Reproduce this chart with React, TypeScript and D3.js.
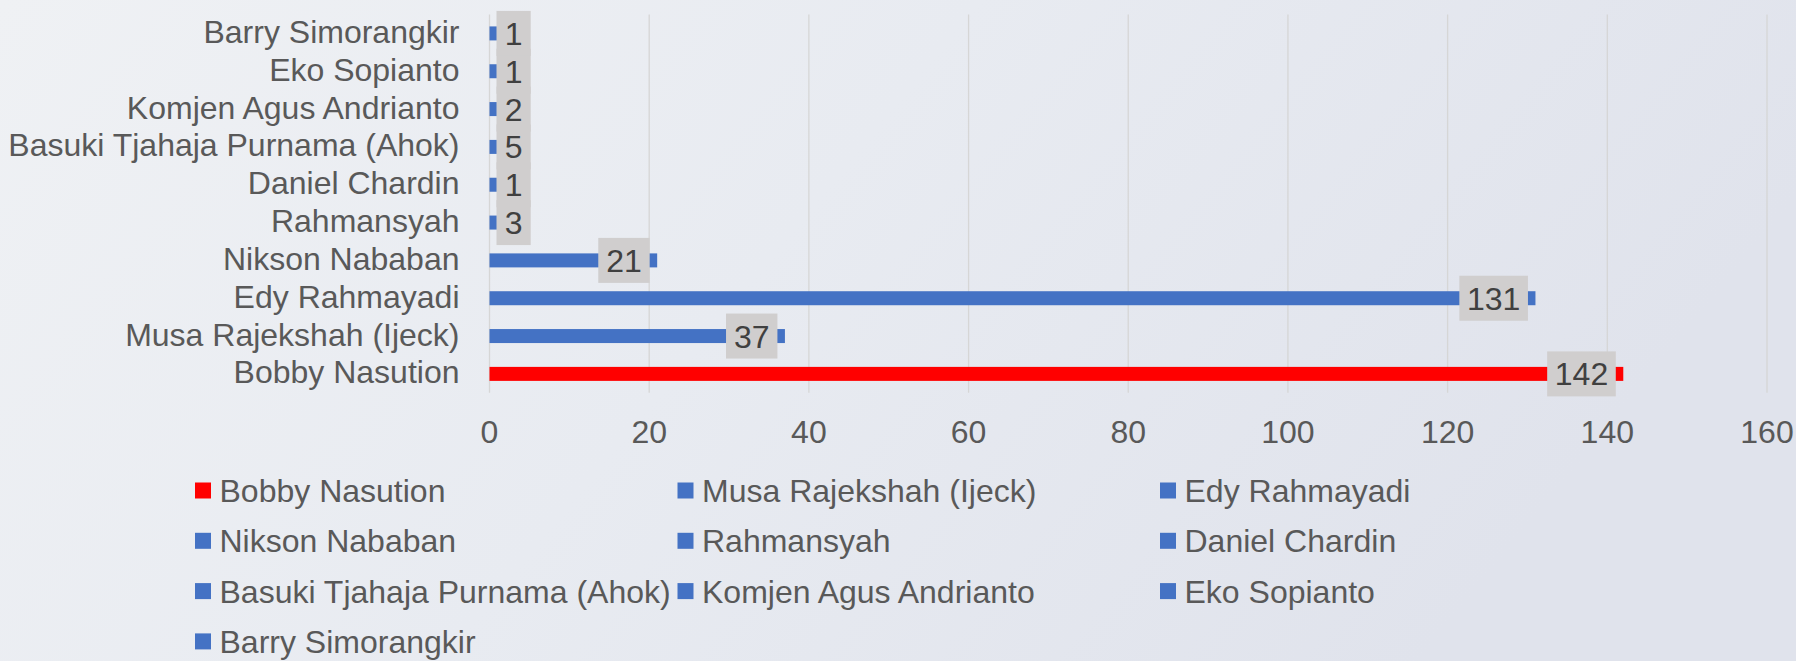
import React from "react";
import * as d3 from "d3";

// series order as in the legend (first series sits at the bottom of the chart)
const names = [
  "Bobby Nasution",
  "Musa Rajekshah (Ijeck)",
  "Edy Rahmayadi",
  "Nikson Nababan",
  "Rahmansyah",
  "Daniel Chardin",
  "Basuki Tjahaja Purnama (Ahok)",
  "Komjen Agus Andrianto",
  "Eko Sopianto",
  "Barry Simorangkir",
];
const values = [142, 37, 131, 21, 3, 1, 5, 2, 1, 1];
const colors = ["#FF0000", "#4472C4", "#4472C4", "#4472C4", "#4472C4", "#4472C4", "#4472C4", "#4472C4", "#4472C4", "#4472C4"];
const ticks = [0, 20, 40, 60, 80, 100, 120, 140, 160];

const width = 1796;
const height = 661;
const font = "'Liberation Sans', Arial, sans-serif";
const fs = 32;

const x = d3.scaleLinear().domain([0, 160]).range([489.5, 1767]);
// top of the chart is the last series
const y = d3
  .scaleBand()
  .domain([...names].reverse())
  .range([14.5, 392.8]);

const barH = 14;
const boxH = 45;
const digitW = 17.2;
const padX = 8.5;

const legendCols = [195, 677.5, 1160];
const legendRow0 = 502;
const legendStep = 50.3;

const App = () => {
  return (
    <svg
      width={width}
      height={height}
      style={{ position: "absolute", left: 0, top: 0, display: "block" }}
      fontFamily={font}
    >
      <defs>
        <linearGradient id="bg" x1="0" y1="0" x2="1" y2="0.3">
          <stop offset="0" stopColor="#eff1f4" />
          <stop offset="0.5" stopColor="#e8ebf1" />
          <stop offset="1" stopColor="#e0e3ec" />
        </linearGradient>
      </defs>
      <rect width={width} height={height} fill="url(#bg)" />

      {/* gridlines */}
      {ticks.map((t) => (
        <line
          key={t}
          x1={x(t)}
          x2={x(t)}
          y1={y.range()[0]}
          y2={y.range()[1]}
          stroke="#d6d6d6"
          strokeWidth={1.3}
        />
      ))}
      {ticks.map((t) => (
        <text key={t} x={x(t)} y={442.5} textAnchor="middle" fontSize={fs} fill="#595959">
          {t}
        </text>
      ))}

      {/* category labels */}
      {names.map((n) => (
        <text
          key={n}
          x={459.5}
          y={(y(n) as number) + y.bandwidth() / 2 + 9.5}
          textAnchor="end"
          fontSize={fs}
          fill="#595959"
        >
          {n}
        </text>
      ))}

      {/* bars */}
      {names.map((n, i) => (
        <rect
          key={n}
          x={x(0)}
          y={(y(n) as number) + y.bandwidth() / 2 - barH / 2}
          width={x(values[i]) - x(0)}
          height={barH}
          fill={colors[i]}
        />
      ))}

      {/* data labels */}
      {names.map((n, i) => {
        const label = String(values[i]);
        const w = label.length * digitW + padX * 2;
        const left = Math.max(x(values[i]) - 7.5 - w, x(0) + 7);
        const cy = (y(n) as number) + y.bandwidth() / 2;
        return (
          <g key={n}>
            <rect x={left} y={cy - boxH / 2} width={w} height={boxH} fill="#D0CECE" />
            <text x={left + w / 2} y={cy + 11.5} textAnchor="middle" fontSize={fs} fill="#404040">
              {label}
            </text>
          </g>
        );
      })}

      {/* legend */}
      {names.map((n, i) => {
        const cx = legendCols[i % 3];
        const by = legendRow0 + Math.floor(i / 3) * legendStep;
        return (
          <g key={n}>
            <rect x={cx} y={by - 19.5} width={16} height={16} fill={colors[i]} />
            <text x={cx + 24.5} y={by} fontSize={fs} fill="#595959">
              {n}
            </text>
          </g>
        );
      })}
    </svg>
  );
};

export default App;
